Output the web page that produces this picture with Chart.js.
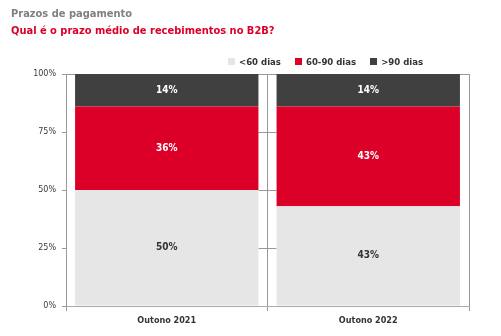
<!DOCTYPE html>
<html lang="pt">
<head>
<meta charset="utf-8">
<title>Prazos de pagamento</title>
<script src="https://cdn.jsdelivr.net/npm/chart.js@4"></script>
<style>
    html, body { margin: 0; padding: 0; background: #fff; }
    #wrap { position: relative; width: 501px; height: 336px; }
    #chart { position: absolute; left: 0; top: 0; }
    .title {
        position: absolute; left: 11px; margin: 0;
        font-family: 'DejaVu Sans Condensed', sans-serif;
        font-weight: bold; font-size: 11px; white-space: nowrap;
    }
    #t1 { top: 7px; color: #808080; }
    #t2 { top: 24px; color: #dc0028; }
    #legend {
        position: absolute; left: 228px; top: 56px; display: flex;
        font-family: 'DejaVu Sans Condensed', sans-serif; font-weight: bold;
        font-size: 9.5px; color: #333;
    }
    #legend span.item { display: flex; align-items: center; margin-right: 14px; }
    #legend i { display: inline-block; width: 7px; height: 7px; margin-right: 4px; }
</style>
</head>
<body>
<div id="wrap">
    <canvas id="chart" width="501" height="336"></canvas>
    <p class="title" id="t1">Prazos de pagamento</p>
    <p class="title" id="t2">Qual é o prazo médio de recebimentos no B2B?</p>
    <div id="legend"></div>
</div>
<script>
// Periods and shares (%) per payment term
const periods = ['Outono 2021', 'Outono 2022'];
const seriesNames = ['<60 dias', '60-90 dias', '>90 dias'];
const under60 = [50, 43];
const from60to90 = [36, 43];
const over90 = [14, 14];
const yTicks = [0, 25, 50, 75, 100];

const colors = ['#e6e6e6', '#dc0028', '#404040'];
const labelColors = ['#333333', '#ffffff', '#ffffff'];
const values = [under60, from60to90, over90];

const CHART_TOP = 74;
const CHART_LEFT = 66;
const CHART_RIGHT = 469;
const CHART_BOTTOM = 306;

// Legend in HTML, built from the same series
const legend = document.getElementById('legend');
seriesNames.forEach((name, i) => {
    const item = document.createElement('span');
    item.className = 'item';
    const sw = document.createElement('i');
    sw.style.background = colors[i];
    item.appendChild(sw);
    item.appendChild(document.createTextNode(name));
    legend.appendChild(item);
});

// Horizontal grid only shows in the gap between the two columns
const gapGrid = {
    id: 'gapGrid',
    beforeDatasetsDraw(chart) {
        const bars = chart.getDatasetMeta(0).data;
        if (bars.length < 2) return;
        const x0 = bars[0].x + bars[0].width / 2;
        const x1 = bars[1].x - bars[1].width / 2;
        const y = chart.scales.y;
        const ctx = chart.ctx;
        ctx.save();
        ctx.strokeStyle = '#999999';
        ctx.lineWidth = 1;
        yTicks.filter(v => v > 0 && v < 100).forEach(v => {
            const py = Math.round(y.getPixelForValue(v)) + 0.5;
            ctx.beginPath();
            ctx.moveTo(x0, py);
            ctx.lineTo(x1, py);
            ctx.stroke();
        });
        ctx.restore();
    }
};

// Percent labels in the middle of each segment
const segmentLabels = {
    id: 'segmentLabels',
    afterDatasetsDraw(chart) {
        const ctx = chart.ctx;
        ctx.save();
        ctx.font = "bold 10px 'DejaVu Sans Condensed', sans-serif";
        ctx.textAlign = 'center';
        ctx.textBaseline = 'middle';
        chart.data.datasets.forEach((ds, di) => {
            chart.getDatasetMeta(di).data.forEach((bar, i) => {
                const v = ds.data[i];
                if (!v) return;
                ctx.fillStyle = labelColors[di];
                ctx.fillText(v + '%', bar.x, (bar.y + bar.base) / 2);
            });
        });
        ctx.restore();
    }
};

new Chart(document.getElementById('chart'), {
    type: 'bar',
    data: {
        labels: periods,
        datasets: seriesNames.map((name, i) => ({
            label: name,
            data: values[i],
            backgroundColor: colors[i],
            borderWidth: 0,
            barPercentage: 0.91,
            categoryPercentage: 1
        }))
    },
    options: {
        responsive: false,
        animation: false,
        layout: { padding: { top: CHART_TOP, left: 0, right: 501 - CHART_RIGHT, bottom: 0 } },
        plugins: {
            legend: { display: false },
            tooltip: { enabled: false }
        },
        scales: {
            x: {
                stacked: true,
                grid: {
                    offset: true,
                    color: c => (c.index === 2 ? '#dddddd' : '#999999'),
                    tickColor: c => (c.index === 2 ? '#dddddd' : '#999999'),
                    tickLength: 5,
                    lineWidth: 1
                },
                border: { color: '#aaaaaa' },
                ticks: {
                    color: '#333',
                    padding: 4,
                    font: { family: "'DejaVu Sans Condensed', sans-serif", weight: 'bold', size: 9 }
                },
                afterFit: s => { s.height = 336 - CHART_BOTTOM; }
            },
            y: {
                stacked: true,
                min: 0,
                max: 100,
                afterBuildTicks: s => { s.ticks = yTicks.map(v => ({ value: v })); },
                grid: {
                    color: c => (c.tick && c.tick.value === 100 ? '#999999' : 'rgba(0,0,0,0)'),
                    tickColor: '#999999',
                    tickLength: 4
                },
                border: { color: '#999999' },
                ticks: {
                    color: '#3a3a3a',
                    padding: 6,
                    callback: v => v + '%',
                    font: { family: "'DejaVu Sans', sans-serif", size: 8 }
                },
                afterFit: s => { s.width = CHART_LEFT; }
            }
        }
    },
    plugins: [gapGrid, segmentLabels]
});
</script>
</body>
</html>
